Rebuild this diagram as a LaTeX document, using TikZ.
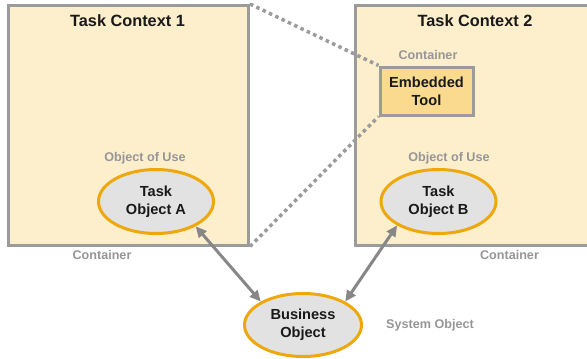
\documentclass[tikz,border=0pt]{standalone}
\usepackage{fontspec}
\setmainfont{Liberation Sans}
\usetikzlibrary{shapes.geometric,arrows.meta}
\definecolor{ctxfill}{RGB}{253,238,204}
\definecolor{toolfill}{RGB}{250,218,142}
\definecolor{framegray}{RGB}{155,155,155}
\definecolor{labelgray}{RGB}{150,150,150}
\definecolor{objfill}{RGB}{226,226,226}
\definecolor{objring}{RGB}{238,168,12}
\definecolor{linkgray}{RGB}{135,135,135}
\definecolor{inktext}{RGB}{25,25,25}
\tikzset{
  ctxbox/.style={draw=framegray, fill=ctxfill, line width=3pt, inner sep=0pt,
    minimum width=240pt, minimum height=239.5pt},
  toolbox/.style={draw=framegray, fill=toolfill, line width=3pt, inner sep=0pt,
    minimum width=93pt, minimum height=48pt, align=center, text=inktext,
    font=\bfseries\fontsize{14.6}{18}\selectfont},
  obj/.style={ellipse, draw=objring, fill=objfill, line width=3pt, inner sep=0pt,
    minimum width=115pt, minimum height=64pt, align=center, text=inktext,
    font=\bfseries\fontsize{14.6}{18}\selectfont},
  ctxtitle/.style={text=inktext, font=\bfseries\fontsize{16.3}{19}\selectfont},
  tag/.style={text=labelgray, font=\bfseries\fontsize{12.6}{14}\selectfont},
  dots/.style={draw=framegray, line width=3.5pt, dash pattern=on 3.5pt off 3.5pt},
  link/.style={draw=linkgray, line width=3pt,
    {Triangle[length=11pt,width=10pt]}-{Triangle[length=11pt,width=10pt]}}
}
\begin{document}
\begin{tikzpicture}[x=1pt,y=-1pt]
  \useasboundingbox (0,0) rectangle (587,359);
  \clip (0,0) rectangle (587,359);

  % the two task contexts
  \node[ctxbox] (ctx1) at (128.5,125.25) {};
  \node[ctxbox] (ctx2) at (475,125.25) {};
  \node[ctxtitle] (t1) at (127.5,21) {Task Context 1};
  \node[ctxtitle] (t2) at (475,21) {Task Context 2};

  % embedded tool inside context 2
  \node[toolbox] (tool) at (426.5,91) {Embedded\\Tool};
  \node[tag] (tooltag) at (428,55) {Container};

  % dotted projection of context 1 onto the tool
  \draw[dots] (ctx1.north east) -- (tool.north west);
  \draw[dots] (ctx1.south east) -- (tool.south west);

  % objects
  \node[obj] (objA) at (156,201.5) {Task\\Object A};
  \node[obj] (objB) at (438.5,201.5) {Task\\Object B};
  \node[obj, minimum width=117pt, minimum height=63pt] (bo) at (303,325) {Business\\Object};

  \node[tag] (useA) at (145,158) {Object of Use};
  \node[tag] (useB) at (449,158) {Object of Use};
  \node[tag] (cont1) at (102,255) {Container};
  \node[tag] (cont2) at (509.5,255) {Container};
  \node[tag] (sys) at (430,325) {System Object};

  % links to the business object
  \draw[link] (objA.-32) -- (bo.151);
  \draw[link] (objB.210) -- (bo.29);
\end{tikzpicture}
\end{document}
